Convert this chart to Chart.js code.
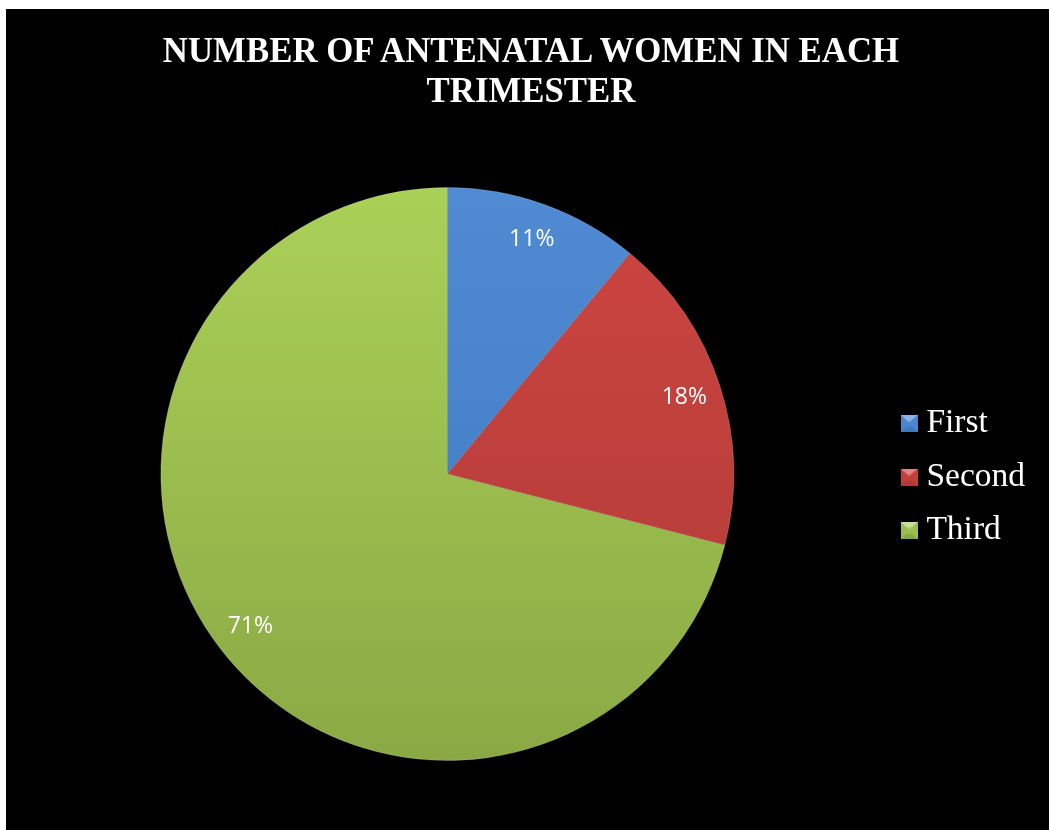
<!DOCTYPE html>
<html>
<head>
<meta charset="utf-8">
<title>Number of antenatal women in each trimester</title>
<script src="https://cdn.jsdelivr.net/npm/chart.js@4"></script>
<style>
  html, body { margin: 0; padding: 0; background: #ffffff; }
  #frame { position: absolute; left: 6px; top: 9px; width: 1043px; height: 821px; background: #000000; overflow: hidden; }
  #chart { position: absolute; left: 0; top: 0; display: block; }
  #heading {
    position: absolute; left: 0; top: 22px; width: 1050px; margin: 0;
    text-align: center; color: #ffffff;
    font: bold 34.8px/39.5px "Liberation Serif", "Times New Roman", serif;
  }
</style>
</head>
<body>
<div id="frame">
  <canvas id="chart" width="1043" height="821"></canvas>
  <h1 id="heading"></h1>
</div>
<script>
// Trimester shares (percent of antenatal women)
const categories = ['First', 'Second', 'Third'];
const shares = [11, 18, 71];
const titleLines = ['NUMBER OF ANTENATAL WOMEN IN EACH', 'TRIMESTER'];

// Slice colours: light (top) and dark (bottom) tones of each fill
const lightTones = ['#4f8ad3', '#cd4540', '#abd057'];
const darkTones  = ['#3f78c0', '#ae3a37', '#8aa944'];
const midTones   = ['#4a85cf', '#c2403c', '#9cbe50'];

// Heading text, one line per entry
const heading = document.getElementById('heading');
titleLines.forEach((line, i) => {
  if (i) heading.appendChild(document.createElement('br'));
  heading.appendChild(document.createTextNode(line));
});

// Vertical gradient across the pie for each slice
function sliceFill(ctx) {
  const chart = ctx.chart;
  const area = chart.chartArea;
  if (!area) return midTones[ctx.dataIndex];
  const g = chart.ctx.createLinearGradient(0, area.top, 0, area.bottom);
  g.addColorStop(0, lightTones[ctx.dataIndex]);
  g.addColorStop(1, darkTones[ctx.dataIndex]);
  return g;
}

// Small bevelled square used as the legend marker
function legendIcon(i) {
  const s = 17;
  const c = document.createElement('canvas');
  c.width = s; c.height = s;
  const x = c.getContext('2d');
  x.fillStyle = midTones[i];
  x.fillRect(0, 0, s, s);
  const b = 5;
  // top face
  x.fillStyle = lightTones[i];
  x.beginPath(); x.moveTo(0, 0); x.lineTo(s, 0); x.lineTo(s - b, b); x.lineTo(b, b); x.closePath(); x.fill();
  x.fillStyle = 'rgba(255,255,255,0.35)';
  x.beginPath(); x.moveTo(0, 0); x.lineTo(s, 0); x.lineTo(s / 2, s / 2 - 1); x.closePath(); x.fill();
  // bottom face
  x.fillStyle = darkTones[i];
  x.beginPath(); x.moveTo(0, s); x.lineTo(s, s); x.lineTo(s - b, s - b); x.lineTo(b, s - b); x.closePath(); x.fill();
  return c;
}

// Percentage labels placed inside each slice
const sliceLabels = {
  id: 'sliceLabels',
  afterDatasetsDraw(chart) {
    const ctx = chart.ctx;
    const meta = chart.getDatasetMeta(0);
    ctx.save();
    ctx.fillStyle = '#ffffff';
    ctx.font = '23px "Open Sans", "Liberation Sans", sans-serif';
    ctx.textAlign = 'center';
    ctx.textBaseline = 'middle';
    meta.data.forEach((arc, i) => {
      const p = arc.getProps(['x', 'y', 'startAngle', 'endAngle', 'outerRadius'], true);
      const mid = (p.startAngle + p.endAngle) / 2;
      const r = p.outerRadius * 0.87;
      ctx.fillText(chart.data.datasets[0].data[i] + '%', p.x + Math.cos(mid) * r, p.y + Math.sin(mid) * r);
    });
    ctx.restore();
  }
};

// Nudge the legend column slightly lower beside the pie
const legendNudge = {
  id: 'legendNudge',
  afterLayout(chart) {
    if (chart.legend) chart.legend.top += 6;
  }
};

new Chart(document.getElementById('chart'), {
  type: 'pie',
  data: {
    labels: categories,
    datasets: [{
      data: shares,
      backgroundColor: sliceFill,
      borderColor: 'rgba(255,255,255,0.18)',
      borderWidth: 1,
      hoverOffset: 0
    }]
  },
  options: {
    responsive: false,
    animation: false,
    devicePixelRatio: 1,
    layout: { padding: { left: -1, right: 14, top: 178, bottom: 69 } },
    plugins: {
      title: { display: false },
      legend: {
        position: 'right',
        fullSize: false,
        labels: {
          color: '#ffffff',
          font: { family: '"Liberation Serif", "Times New Roman", serif', size: 33.5 },
          usePointStyle: true,
          boxWidth: 1,
          boxHeight: 17,
          padding: 20,
          generateLabels(chart) {
            return categories.map((name, i) => ({
              text: name,
              fillStyle: midTones[i],
              strokeStyle: midTones[i],
              lineWidth: 0,
              pointStyle: legendIcon(i),
              fontColor: '#ffffff',
              hidden: false,
              index: i
            }));
          }
        }
      },
      tooltip: { enabled: false }
    }
  },
  plugins: [sliceLabels, legendNudge]
});
</script>
</body>
</html>
